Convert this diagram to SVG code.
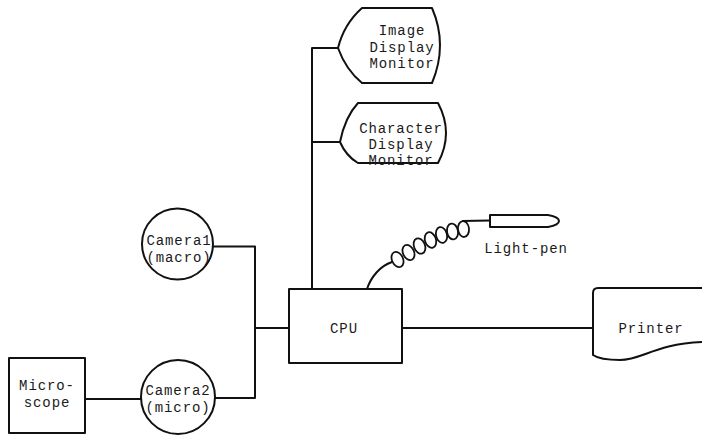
<svg xmlns="http://www.w3.org/2000/svg" width="702" height="436" viewBox="0 0 702 436">
<style>
.s{fill:none;stroke:#111;stroke-width:2;stroke-linejoin:round;stroke-linecap:round}
.f{fill:#fff;stroke:#111;stroke-width:2;stroke-linejoin:round}
.t{font-family:"Liberation Mono","DejaVu Sans Mono",monospace;font-size:14px;letter-spacing:0.9px;fill:#1a1a1a;text-anchor:middle}
.c{fill:none;stroke:#111;stroke-width:1.8}
</style>
<rect width="702" height="436" fill="#fff"/>
<g id="connectors">
<path class="s" d="M312,289 V48 H338 M312,142 H340"/>
<path class="s" d="M213,246.5 H255 V398 H215 M255,328 H289"/>
<path class="s" d="M85,399 H141"/>
<path class="s" d="M402,328 H593"/>
</g>
<g id="image-display-monitor">
<path class="f" d="M338,48 Q344,24 362,8 H432 Q448,45 432,83 H362 Q346,70 338,48 Z"/>
<text class="t" x="402" y="35">Image</text>
<text class="t" x="402" y="52">Display</text>
<text class="t" x="402" y="68">Monitor</text>
</g>
<g id="character-display-monitor">
<path class="f" d="M340,142 Q345,117 358,103 H438 Q454,133 438,163 H358 Q346,156 340,142 Z"/>
<text class="t" x="401" y="133">Character</text>
<text class="t" x="401" y="149">Display</text>
<text class="t" x="401" y="165">Monitor</text>
</g>
<g id="camera1">
<circle class="f" cx="177.5" cy="244" r="35.5"/>
<text class="t" x="179" y="245">Camera1</text>
<text class="t" x="179" y="262">(macro)</text>
</g>
<g id="camera2">
<circle class="f" cx="178" cy="397" r="37"/>
<text class="t" x="178" y="395">Camera2</text>
<text class="t" x="178" y="412">(micro)</text>
</g>
<g id="microscope">
<rect class="f" x="9" y="358" width="76" height="75"/>
<text class="t" x="47" y="390">Micro-</text>
<text class="t" x="47" y="407">scope</text>
</g>
<g id="cpu">
<rect class="f" x="289" y="289" width="113" height="74"/>
<text class="t" x="344" y="333">CPU</text>
</g>
<g id="printer">
<path class="f" d="M702,288 H598 Q593,288 593,293 V355 Q600,360 620,360 C642,360 655,344 702,342"/>
<text class="t" x="651" y="333">Printer</text>
</g>
<g id="light-pen">
<path class="s" d="M367,289 C371,277 380,266 392,262"/>
<ellipse class="c" cx="397.5" cy="259.5" rx="5.5" ry="8" transform="rotate(-25 397.5 259.5)"/>
<ellipse class="c" cx="408.5" cy="252.5" rx="5.5" ry="8" transform="rotate(-25 408.5 252.5)"/>
<ellipse class="c" cx="419.5" cy="246" rx="5.5" ry="8" transform="rotate(-22 419.5 246)"/>
<ellipse class="c" cx="430.5" cy="240" rx="5.5" ry="8" transform="rotate(-18 430.5 240)"/>
<ellipse class="c" cx="441.5" cy="235" rx="5.5" ry="8" transform="rotate(-14 441.5 235)"/>
<ellipse class="c" cx="452.5" cy="231.5" rx="5.5" ry="8" transform="rotate(-10 452.5 231.5)"/>
<ellipse class="c" cx="463.5" cy="229" rx="5.5" ry="8" transform="rotate(-6 463.5 229)"/>
<path class="s" d="M463,221 Q475,220.5 490,220.5"/>
<path class="f" d="M490,215 H548 Q559,217 559,221 Q559,225 548,227 H490 Z"/>
<text class="t" x="526" y="253">Light-pen</text>
</g>
</svg>
